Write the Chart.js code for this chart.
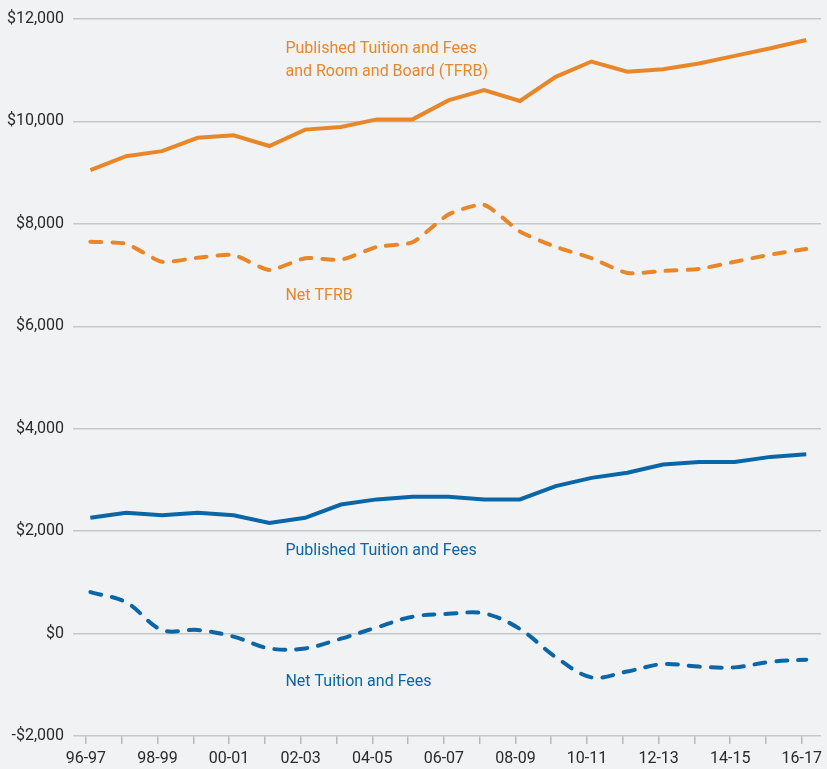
<!DOCTYPE html>
<html>
<head>
<meta charset="utf-8">
<script src="https://cdn.jsdelivr.net/npm/chart.js@4.4.0/dist/chart.umd.min.js"></script>
<style>
  html, body { margin: 0; padding: 0; background: #f1f2f4; }
  #wrap { width: 827px; height: 769px; position: relative; }
</style>
</head>
<body>
<div id="wrap"><canvas id="chart"></canvas></div>
<script>
// academic years on the x axis
const years = ['96-97', '97-98', '98-99', '99-00', '00-01', '01-02', '02-03', '03-04', '04-05', '05-06',
  '06-07', '07-08', '08-09', '09-10', '10-11', '11-12', '12-13', '13-14', '14-15', '15-16', '16-17'];

// values (dollars)
const publishedTFRB = [9050, 9320, 9420, 9680, 9730, 9520, 9840, 9890, 10040, 10040,
  10410, 10610, 10400, 10870, 11170, 10970, 11020, 11130, 11280, 11430, 11590];
const netTFRB = [7650, 7610, 7260, 7340, 7390, 7100, 7330, 7300, 7550, 7640,
  8180, 8370, 7850, 7550, 7330, 7040, 7080, 7120, 7260, 7400, 7510];
const publishedTF = [2260, 2360, 2310, 2360, 2310, 2160, 2260, 2520, 2620, 2670,
  2670, 2620, 2620, 2880, 3040, 3140, 3300, 3350, 3350, 3450, 3500];
const netTF = [810, 610, 70, 70, -60, -290, -290, -100, 120, 330,
  385, 395, 90, -460, -855, -740, -595, -645, -660, -550, -510];

const yTicks = [-2000, 0, 2000, 4000, 6000, 8000, 10000, 12000];

const ORANGE = '#e8872a';
const BLUE = '#0a66a6';

// inline line labels: position in data units (x = year index, y = dollars)
const seriesLabels = [
  { text: 'Published Tuition and Fees', x: 5.45, y: 11410, color: ORANGE },
  { text: 'and Room and Board (TFRB)', x: 5.45, y: 10970, color: ORANGE },
  { text: 'Net TFRB', x: 5.45, y: 6590, color: ORANGE },
  { text: 'Published Tuition and Fees', x: 5.45, y: 1610, color: BLUE },
  { text: 'Net Tuition and Fees', x: 5.45, y: -950, color: BLUE }
];

const FONT = 'Roboto, "Liberation Sans", sans-serif';

const toPoints = arr => arr.map((v, i) => ({ x: i, y: v }));

const fmtDollar = v => (v < 0 ? '-$' : '$') + Math.abs(v).toLocaleString('en-US');

const labelPlugin = {
  id: 'seriesLabels',
  afterDatasetsDraw(chart) {
    const { ctx, scales } = chart;
    ctx.save();
    ctx.font = '16px ' + FONT;
    ctx.textAlign = 'left';
    ctx.textBaseline = 'middle';
    seriesLabels.forEach(l => {
      ctx.fillStyle = l.color;
      ctx.fillText(l.text, scales.x.getPixelForValue(l.x), scales.y.getPixelForValue(l.y));
    });
    ctx.restore();
  }
};

const solid = (data, color) => ({
  data: toPoints(data), borderColor: color, borderWidth: 4, pointRadius: 0, tension: 0, fill: false
});
const dashed = (data, color, tension) => ({
  data: toPoints(data), borderColor: color, borderWidth: 4, pointRadius: 0, tension: tension,
  borderDash: [11, 11], borderCapStyle: 'round', fill: false
});

new Chart(document.getElementById('chart'), {
  type: 'line',
  data: {
    datasets: [
      solid(publishedTFRB, ORANGE),
      dashed(netTFRB, ORANGE, 0.2),
      solid(publishedTF, BLUE),
      dashed(netTF, BLUE, 0.35)
    ]
  },
  options: {
    responsive: true,
    maintainAspectRatio: false,
    devicePixelRatio: 1,
    animation: false,
    layout: { padding: { top: 19, left: 0, right: 0, bottom: 0 } },
    plugins: { legend: { display: false }, tooltip: { enabled: false } },
    scales: {
      x: {
        type: 'linear',
        min: -0.485,
        max: 20.41,
        afterBuildTicks: axis => { axis.ticks = years.map((y, i) => ({ value: i - 0.125 })); },
        afterFit: s => { s.height = 33; },
        grid: { drawOnChartArea: false, drawTicks: true, tickLength: 8, color: '#b8b9bc', lineWidth: 1.5 },
        border: { display: false },
        ticks: {
          autoSkip: false, maxRotation: 0, padding: 5, color: '#2a2a2a',
          font: { family: FONT, size: 16 },
          callback: (v, i) => (i % 2 === 0 ? years[i] : '')
        }
      },
      y: {
        min: -2000,
        max: 12000,
        afterBuildTicks: axis => { axis.ticks = yTicks.map(v => ({ value: v })); },
        afterFit: s => { s.width = 73; },
        grid: { color: '#c6c7ca', lineWidth: 1.5, drawTicks: false },
        border: { display: false },
        ticks: {
          padding: 9, color: '#2a2a2a',
          font: { family: FONT, size: 16 },
          callback: v => fmtDollar(v)
        }
      }
    }
  },
  plugins: [labelPlugin]
});
</script>
</body>
</html>
